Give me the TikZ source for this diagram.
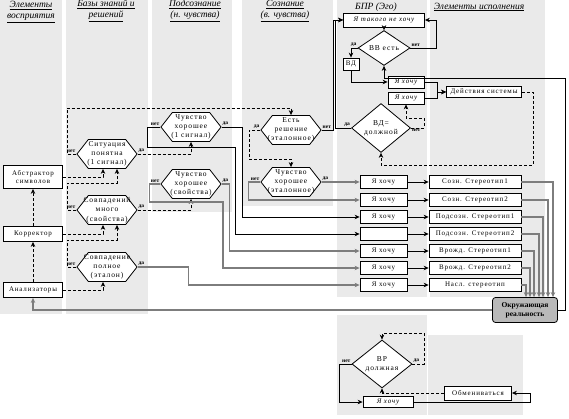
\documentclass[tikz,border=0pt]{standalone}
\usepackage{fontspec}
\setmainfont{Liberation Serif}
\newfontfamily\lsfont[LetterSpace=12]{Liberation Serif}
\usepackage{tikz}
\usetikzlibrary{arrows.meta,shapes.geometric,shapes.symbols}
\definecolor{panelgray}{RGB}{234,234,234}
\definecolor{wiregray}{RGB}{125,125,125}
\definecolor{realgray}{RGB}{185,185,185}

\tikzset{
  head/.style={font=\fontsize{9.5}{11}\selectfont\itshape, align=center, inner sep=0pt},
  box/.style={draw, fill=white, line width=0.8pt, inner sep=0.5pt, align=center,
    font=\lsfont\fontsize{7}{8.5}\selectfont},
  hexa/.style={draw, fill=white, shape=signal, signal to=west and east,
    signal pointer angle=104, minimum width=60, minimum height=29,
    inner xsep=-7pt, inner ysep=0pt,
    align=center, line width=0.8pt, font=\lsfont\fontsize{7.5}{9.3}\selectfont},
  rhomb/.style={draw, fill=white, diamond, inner sep=0pt, align=center,
    line width=0.8pt, font=\lsfont\fontsize{7.5}{9}\selectfont},
  ans/.style={font=\fontsize{5.5}{5.5}\selectfont\bfseries, inner sep=1pt},
  wire/.style={draw, line width=0.7pt, -{Stealth[length=5pt,width=4.5pt]}},
  gwire/.style={wire, draw=wiregray, line width=1.1pt},
  dwire/.style={wire, dash pattern=on 3pt off 2pt},
}

\begin{document}
\begin{tikzpicture}[x=1pt, y=-1pt]
  \useasboundingbox (0,0) rectangle (569,419);

  % Panels
  \fill[panelgray] (0,0) rectangle (62,314);
  \fill[panelgray] (66,0) rectangle (148,314);
  \fill[panelgray] (152,0) rectangle (232,212);
  \fill[panelgray] (242,0) rectangle (333,206);
  \fill[panelgray] (337,0) rectangle (427,297);
  \fill[panelgray] (430,0) rectangle (545,297);
  \fill[panelgray] (337,315) rectangle (427,415);
  \fill[panelgray] (428,335) rectangle (523,415);

  % Headers
  \node[head] (hPerc) at (31,12) {\underline{Элементы}\\\underline{восприятия}};
  \node[head] (hBase) at (106,11) {\underline{Базы знаний и}\\\underline{решений}};
  \node[head] (hSub) at (195,11) {\underline{Подсознание}\\\underline{(н. чувства)}};
  \node[head] (hCon) at (285,11) {\underline{Сознание}\\\underline{(в. чувства)}};
  \node[head] (hEgo) at (376,7) {БПР (Эго)};
  \node[head] (hExec) at (479,7) {\underline{Элементы исполнения}};

  % Perception
  \node[box, minimum width=59, minimum height=23] (abstr) at (33,177) {Абстрактор\\символов};
  \node[box, minimum width=59, minimum height=15] (korr) at (33,234) {Корректор};
  \node[box, minimum width=59, minimum height=15] (anal) at (33,290) {Анализаторы};

  % Knowledge base
  \node[hexa] (sit) at (107,154) {Ситуация\\понятна\\(1 сигнал)};
  \node[hexa] (mnogo) at (107,210) {Совпадений\\много\\(свойства)};
  \node[hexa] (poln) at (107,267) {Совпадение\\полное\\(эталон)};

  % Subconscious, conscious
  \node[hexa] (chs1) at (191,127) {Чувство\\хорошее\\(1 сигнал)};
  \node[hexa] (chsv) at (191,184) {Чувство\\хорошее\\(свойства)};
  \node[hexa] (resh) at (291,130) {Есть\\решение\\(эталонное)};
  \node[hexa] (chet) at (291,182) {Чувство\\хорошее\\(эталонное)};

  % Ego
  \node[box, minimum width=81, minimum height=14, font=\lsfont\fontsize{7}{8.5}\selectfont\itshape] (netakogo) at (384,20) {Я такого не хочу};
  \node[rhomb, minimum width=52, minimum height=23] (vv) at (384,48) {ВВ есть};
  \node[box, minimum width=16, minimum height=12] (vd) at (351,64) {ВД};
  \node[box, minimum width=36, minimum height=12, font=\lsfont\fontsize{7}{8.5}\selectfont\itshape] (want1) at (406,82) {Я хочу};
  \node[box, minimum width=36, minimum height=12, font=\lsfont\fontsize{7}{8.5}\selectfont\itshape] (want2) at (406,98) {Я хочу};
  \node[box, minimum width=75, minimum height=11] (act) at (484,92) {Действия системы};
  \node[rhomb, minimum width=59, minimum height=38] (vdd) at (381,128) {ВД=\\должной};

  \node[box, minimum width=65, minimum height=25, rounded corners=3pt, fill=realgray,
    font=\fontsize{7.5}{9}\selectfont\bfseries] (reality) at (525,310) {Окружающая\\реальность};

  % Rows of stereotypes
  \foreach \yy/\txt/\stxt/\off [count=\i] in {182/Я хочу/Созн. Стереотип1/28,
      200/Я хочу/Созн. Стереотип2/23, 217/Я хочу/Подсозн. Стереотип1/18,
      234//Подсозн. Стереотип2/14, 251/Я хочу/Врожд. Стереотип1/9,
      268/Я хочу/Врожд. Стереотип2/5, 285/Я хочу/Насл. стереотип/1} {
    \node[box, minimum width=47, minimum height=13] (wantR\i) at (383.5,\yy) {\txt};
    \node[box, minimum width=92, minimum height=13] (stereo\i) at (475,\yy) {\stxt};
    \draw[wire] (wantR\i) -- (stereo\i);
    \draw[gwire] (stereo\i.east) -| ([xshift=\off]reality.north);
  }

  % Bottom loop
  \node[rhomb, minimum width=60, minimum height=42] (vr) at (382,364) {ВР\\должная};
  \node[box, minimum width=50, minimum height=11, font=\lsfont\fontsize{7}{8.5}\selectfont\itshape] (wantB) at (388,402) {Я хочу};
  \node[box, minimum width=67, minimum height=14] (obmen) at (478,393) {Обмениваться};

  % Perception links
  \draw[dwire] (anal) -- (korr);
  \draw[dwire] (korr) -- (abstr);
  \draw[dwire] (anal.east) -| ([xshift=-4]poln.south);
  \draw[dwire] (korr.east) -| ([xshift=-4]mnogo.south);
  \draw[dwire] (abstr.east) -| ([xshift=-4]sit.south);
  \draw[dwire] (poln.west) -| (67,240) -| ([xshift=10]mnogo.south);
  \draw[dwire] (mnogo.west) -| (67,183) -| ([xshift=10]sit.south);
  \draw[dwire] (sit.west) -| (67,108) -| (resh.north);
  \draw[dwire] (sit.east) -| (chs1.south);
  \draw[dwire] (mnogo.east) -| (chsv.south);

  % To the rows
  \draw[wire] (chs1.west) -- ++(-13,0) |- (235,147) |- (wantR4.west);
  \draw[wire] (chs1.east) -- ++(21,0) |- (wantR3.west);
  \draw[gwire] (chsv.east) -- ++(8,0) |- (wantR5.west);
  \draw[gwire] (chsv.west) -- ++(-11,0) |- (223,202) |- (wantR6.west);
  \draw[gwire] (poln.east) -- ++(51,0) |- (wantR7.west);
  \draw[wire] (resh.east) -- ++(12,0) |- (netakogo.west);
  \draw[dwire] (resh.west) -- ++(-11,0) |- ([yshift=8]chet.north) -- (chet.north);
  \draw[gwire] (chet.west) -- ++(-12,0) |- (wantR2.west);
  \draw[gwire] (chet.east) -- (wantR1.west);

  % Ego links
  \draw[wire] (netakogo) -- (vv);
  \draw[wire] (vv.east) -- ++(26,0) |- (netakogo.east);
  \draw[wire] (vv.west) -| (vd.north);
  \draw[wire] (vd.south) |- (want1.west);
  \draw[wire] (want1.east) -- ++(13,0) |- (act.west);
  \draw[wire] (want2.east) -- ++(13,0) |- (act.west);
  \draw[dwire] (act.east) -- ++(11,0) |- ([yshift=-12]vdd.south) -- (vdd.south);
  \draw[dwire] (vdd.east) -- ++(13,0) |- ([yshift=-14]want2.south) -- (want2.south);
  \draw[wire] (vdd.west) -- ++(-16,0) |- (netakogo.west);
  \draw[wire] (reality.east) -- ++(7,0) |- ([yshift=-13]vv.south) -- (vv.south);
  \draw[gwire] (reality.west) -| (anal.south);

  % Bottom links
  \draw[wire] (vr.west) -- ++(-12,0) |- (wantB.west);
  \draw[dwire] (vr.east) -- ++(12,0) |- ([yshift=6]vr.north) -- (vr.north);
  \draw[wire] (wantB.east) -- ++(117,0) |- (obmen.east);
  \draw[dwire] (obmen.west) -| (vr.south);

  % Answers
  \node[ans, above left] (aSitN) at (sit.west) {нет};
  \node[ans, above right] (aSitY) at (sit.east) {да};
  \node[ans, above left] (aMnN) at (mnogo.west) {нет};
  \node[ans, above right] (aMnY) at (mnogo.east) {да};
  \node[ans, above left] (aPoN) at (poln.west) {нет};
  \node[ans, above right] (aPoY) at (poln.east) {да};
  \node[ans, above left] (aC1N) at (chs1.west) {нет};
  \node[ans, above right] (aC1Y) at (chs1.east) {да};
  \node[ans, above left] (aCsN) at (chsv.west) {нет};
  \node[ans, above right] (aCsY) at (chsv.east) {да};
  \node[ans, above left] (aReY) at (resh.west) {да};
  \node[ans, above right] (aReN) at (resh.east) {нет};
  \node[ans, above left] (aCeN) at (chet.west) {нет};
  \node[ans, above right] (aCeY) at (chet.east) {да};
  \node[ans, above left] (aVvY) at (vv.west) {да};
  \node[ans, above right] (aVvN) at (vv.east) {нет};
  \node[ans, above left] (aVdY) at (vdd.west) {да};
  \node[ans, below right] (aVdN) at (vdd.east) {нет};
  \node[ans, above left] (aVrN) at (vr.west) {нет};
  \node[ans, above right] (aVrY) at (vr.east) {да};
\end{tikzpicture}
\end{document}
